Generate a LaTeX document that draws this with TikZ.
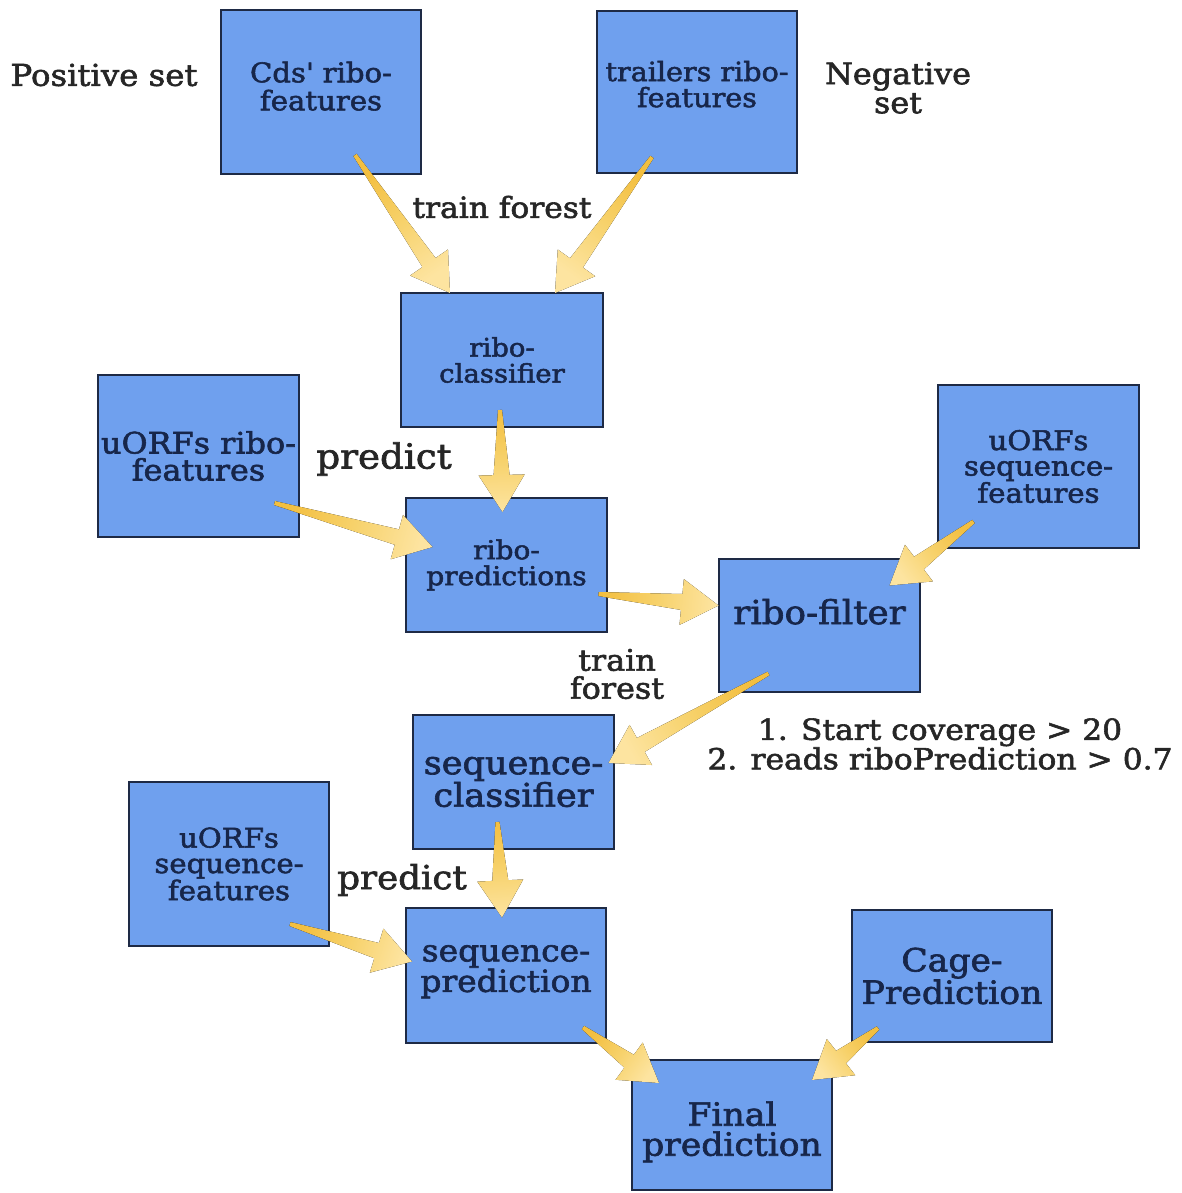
\documentclass[tikz,border=0pt]{standalone}
\usepackage{fontspec}
\setmainfont[FakeStretch=1.08, FakeBold=2]{DejaVu Serif}
\usetikzlibrary{calc}
\definecolor{boxblue}{HTML}{6FA0EE}
\definecolor{boxline}{HTML}{1E2A45}
\definecolor{boxtext}{HTML}{17264A}
\definecolor{labtext}{HTML}{262626}
\definecolor{ytail}{HTML}{F3BF40}
\definecolor{ymid}{HTML}{F7D26C}
\definecolor{yhead}{HTML}{FDE4A0}
\newcommand\fsz[2]{\fontsize{#1}{#2}\selectfont}
\tikzset{
  box/.style={draw=boxline, line width=1.4pt, fill=boxblue, text=boxtext,
    align=center, inner sep=0pt, minimum width=200pt},
  lab/.style={text=labtext, align=center, inner sep=0pt},
  arrowfill/.style={top color=ytail, bottom color=yhead, middle color=ymid, draw=none}
}
\newcommand\yarr[2]{%
  \path #1 coordinate (ya) #2 coordinate (yb);
  \pgfmathanglebetweenpoints{\pgfpointanchor{ya}{center}}{\pgfpointanchor{yb}{center}}%
  \pgfmathsetmacro\yang{\pgfmathresult+90}%
  \path ($(yb)!37pt!(ya)$) coordinate (yh);
  \fill[arrowfill, shading angle=\yang]
    ($(ya)!2pt!90:(yb)$) -- ($(yh)!8pt!90:(yb)$) -- ($(yh)!23pt!90:(yb)$) -- (yb)
    -- ($(yh)!23pt!-90:(yb)$) -- ($(yh)!8pt!-90:(yb)$) -- ($(ya)!2pt!-90:(yb)$) -- cycle;
}
\begin{document}
\begin{tikzpicture}[x=1pt, y=-1pt]
\useasboundingbox (0,0) rectangle (1182,1193);
\fill[white] (0,0) rectangle (1182,1193);

% boxes
\node[box, minimum height=164pt, text depth=12pt, font=\fsz{27}{28}] (cds) at (321,92) {Cds\textquotesingle{} ribo-\\features};
\node[box, minimum height=162pt, text depth=16pt, font=\fsz{26.5}{26}] (trail) at (697,92) {trailers ribo-\\features};
\node[box, minimum width=202pt, minimum height=134pt, font=\fsz{25.5}{26}] (rclass) at (502,360) {ribo-\\classifier};
\node[box, minimum width=201pt, minimum height=162pt, font=\fsz{29.5}{27}] (uribo) at (198.5,456) {uORFs ribo-\\features};
\node[box, minimum width=201pt, minimum height=134pt, font=\fsz{26}{26}] (rpred) at (506.5,565) {ribo-\\predictions};
\node[box, minimum width=201pt, minimum height=163pt, font=\fsz{27}{25.5}] (useqR) at (1038.5,466.5) {uORFs\\sequence-\\features};
\node[box, minimum width=201pt, minimum height=133pt, text depth=28pt, font=\fsz{33}{30}] (rfilt) at (819.5,625.5) {ribo-filter};
\node[box, minimum width=201pt, minimum height=134pt, font=\fsz{32.5}{30}] (sclass) at (513.5,782) {sequence-\\classifier};
\node[box, minimum height=164pt, font=\fsz{27}{25.5}] (useqL) at (229,864) {uORFs\\sequence-\\features};
\node[box, minimum height=135pt, text depth=14pt, font=\fsz{30.5}{28}] (spred) at (506,975.5) {sequence-\\prediction};
\node[box, minimum height=132pt, font=\fsz{32}{30}] (cage) at (952,976) {Cage-\\Prediction};
\node[box, minimum height=130pt, font=\fsz{32}{30}] (final) at (732,1125) {\rule{0pt}{38pt}Final\\prediction};

% free labels
\node[lab, font=\fsz{30}{28}] (pos) at (104,75) {Positive set};
\node[lab, font=\fsz{29.5}{29}] (neg) at (898,88) {Negative\\set};
\node[lab, font=\fsz{29}{28}] (tf1) at (502,207) {train forest};
\node[lab, font=\fsz{34.5}{30}] (pr1) at (384,459) {predict};
\node[lab, font=\fsz{29.5}{28}] (tf2) at (617,674) {train\\forest};
\node[lab, font=\fsz{29}{28}] (cond) at (940,744) {1. Start coverage > 20\\2. reads riboPrediction > 0.7};
\node[lab, font=\fsz{33}{30}] (pr2) at (402,880) {predict};

% arrows
\yarr{($(cds.center)+(34,63)$)}{($(rclass.center)+(-52,-67)$)}
\yarr{($(trail.center)+(-45,65)$)}{($(rclass.center)+(53,-67)$)}
\yarr{($(rclass.center)+(-2,50)$)}{($(rpred.center)+(-4,-53)$)}
\yarr{($(uribo.center)+(76,47)$)}{($(rpred.center)+(-74,-18)$)}
\yarr{($(rpred.center)+(92,29)$)}{($(rfilt.center)+(-101,-20)$)}
\yarr{($(useqR.center)+(-65,55)$)}{($(rfilt.center)+(70,-40)$)}
\yarr{($(rfilt.center)+(-51,48)$)}{($(sclass.center)+(95,-19)$)}
\yarr{($(sclass.center)+(-16,40)$)}{($(spred.center)+(-4,-58)$)}
\yarr{($(useqL.center)+(61,60)$)}{($(spred.center)+(-94,-14)$)}
\yarr{($(spred.center)+(77,52)$)}{($(final.center)+(-73,-42)$)}
\yarr{($(cage.center)+(-74,52)$)}{($(final.center)+(80,-45)$)}
\end{tikzpicture}
\end{document}
